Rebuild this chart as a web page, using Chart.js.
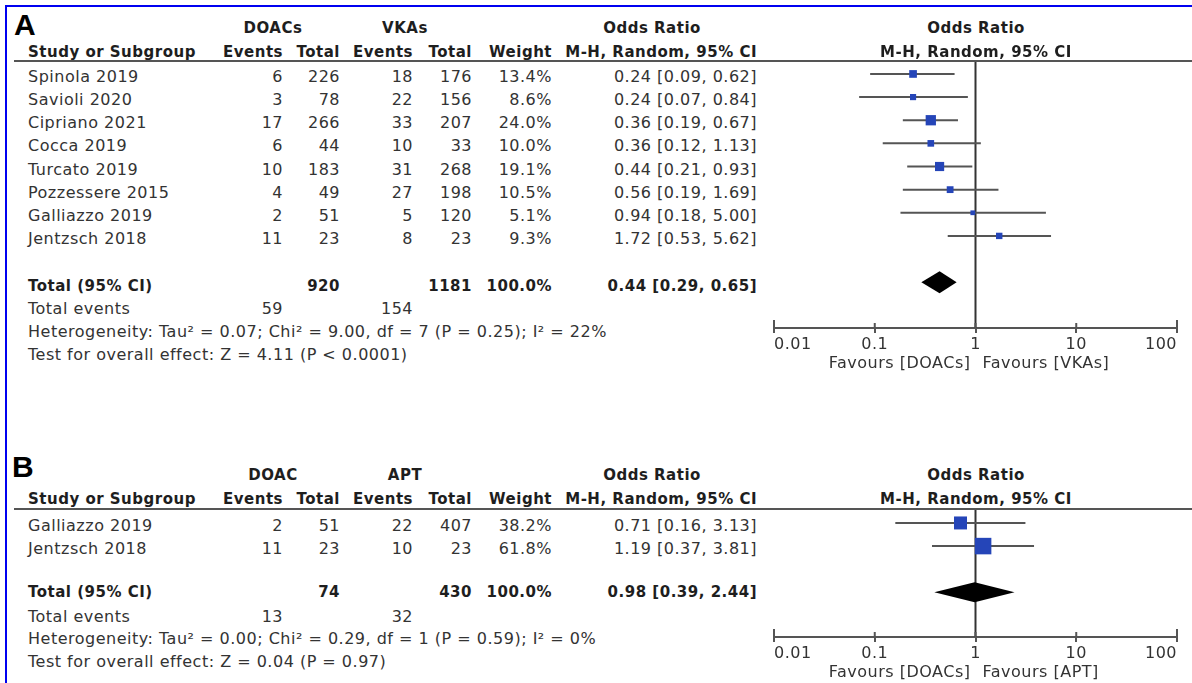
<!DOCTYPE html>
<html>
<head>
<meta charset="utf-8">
<script src="https://cdn.jsdelivr.net/npm/chart.js@4"></script>
<style>
  html, body { margin: 0; padding: 0; background: #fff; }
  #page { position: relative; width: 1192px; height: 683px; overflow: hidden;
          font-family: "DejaVu Sans", sans-serif; font-size: 16px; letter-spacing: 0.5px; color: #333; }
  .t { position: absolute; white-space: nowrap; line-height: 20px; height: 20px; }
  .b { font-weight: bold; font-size: 15px; letter-spacing: 0.5px; color: #1e1e1e; }
  .r { transform: translateX(-100%); }
  .c { transform: translateX(-50%); }
  .tag { position: absolute; font: bold 30px "Liberation Sans", Arial, sans-serif; letter-spacing: 0; color: #000; line-height: 30px; }
  .rule { position: absolute; left: 14px; right: 0; height: 2px; background: #555; }
  #frameTop { position: absolute; left: 5px; right: 0; top: 5px; height: 2px; background: #0000f0; }
  #frameLeft { position: absolute; left: 5px; top: 5px; bottom: 0; width: 2px; background: #0000f0; }
  canvas { position: absolute; left: 760px; }
</style>
</head>
<body>
<div id="page">
  <div id="frameTop"></div>
  <div id="frameLeft"></div>
  <canvas id="plotA" width="432" height="330" style="top:61px"></canvas>
  <canvas id="plotB" width="432" height="190" style="top:510px"></canvas>
</div>
<script>
// ---- Panel A: DOACs vs VKAs ----
const studiesA = ["Spinola 2019", "Savioli 2020", "Cipriano 2021", "Cocca 2019",
                  "Turcato 2019", "Pozzessere 2015", "Galliazzo 2019", "Jentzsch 2018"];
const doacEventsA = [6, 3, 17, 6, 10, 4, 2, 11];
const doacTotalA = [226, 78, 266, 44, 183, 49, 51, 23];
const vkaEventsA = [18, 22, 33, 10, 31, 27, 5, 8];
const vkaTotalA = [176, 156, 207, 33, 268, 198, 120, 23];
const weightA = [13.4, 8.6, 24.0, 10.0, 19.1, 10.5, 5.1, 9.3];
const orA = [0.24, 0.24, 0.36, 0.36, 0.44, 0.56, 0.94, 1.72];
const loA = [0.09, 0.07, 0.19, 0.12, 0.21, 0.19, 0.18, 0.53];
const hiA = [0.62, 0.84, 0.67, 1.13, 0.93, 1.69, 5.00, 5.62];
const pooledA = [0.44, 0.29, 0.65];      // OR, lower, upper
const totalsA = [920, 1181];
const totalEventsA = [59, 154];
const groupsA = ["DOACs", "VKAs"];
const hetA = "Heterogeneity: Tau² = 0.07; Chi² = 9.00, df = 7 (P = 0.25); I² = 22%";
const testA = "Test for overall effect: Z = 4.11 (P < 0.0001)";
const favoursA = ["Favours [DOACs]", "Favours [VKAs]"];

// ---- Panel B: DOAC vs APT ----
const studiesB = ["Galliazzo 2019", "Jentzsch 2018"];
const doacEventsB = [2, 11];
const doacTotalB = [51, 23];
const aptEventsB = [22, 10];
const aptTotalB = [407, 23];
const weightB = [38.2, 61.8];
const orB = [0.71, 1.19];
const loB = [0.16, 0.37];
const hiB = [3.13, 3.81];
const pooledB = [0.98, 0.39, 2.44];
const totalsB = [74, 430];
const totalEventsB = [13, 32];
const groupsB = ["DOAC", "APT"];
const hetB = "Heterogeneity: Tau² = 0.00; Chi² = 0.29, df = 1 (P = 0.59); I² = 0%";
const testB = "Test for overall effect: Z = 0.04 (P = 0.97)";
const favoursB = ["Favours [DOACs]", "Favours [APT]"];

const xTicks = [0.01, 0.1, 1, 10, 100];

/*
 * Text table */
const page = document.getElementById("page");
const COLS = [28, 283, 340, 413, 472, 552, 757];
const ROW = 23.14;

function put(text, x, y, cls) {
    const s = document.createElement("span");
    s.className = "t " + (cls || "");
    s.textContent = text;
    s.style.left = x + "px";
    s.style.top = (y - 10) + "px";
    page.appendChild(s);
}

const ci = (o, l, h) => `${o.toFixed(2)} [${l.toFixed(2)}, ${h.toFixed(2)}]`;

function table(L, d) {
    const tag = document.createElement("div");
    tag.className = "tag";
    tag.textContent = L.tag;
    tag.style.left = L.tagX + "px";
    tag.style.top = (L.tagY - 15) + "px";
    page.appendChild(tag);

    put(d.groups[0], 273, L.h1, "b c");
    put(d.groups[1], 405, L.h1, "b c");
    put("Odds Ratio", 652, L.h1, "b c");
    put("Odds Ratio", 976, L.h1, "b c");
    put("Study or Subgroup", COLS[0], L.h2, "b");
    put("Events", COLS[1], L.h2, "b r");
    put("Total", COLS[2], L.h2, "b r");
    put("Events", COLS[3], L.h2, "b r");
    put("Total", COLS[4], L.h2, "b r");
    put("Weight", COLS[5], L.h2, "b r");
    put("M-H, Random, 95% CI", COLS[6], L.h2, "b r");
    put("M-H, Random, 95% CI", 976, L.h2, "b c");

    const rule = document.createElement("div");
    rule.className = "rule";
    rule.style.top = L.rule + "px";
    page.appendChild(rule);

    d.names.forEach((n, i) => {
        const y = L.row0 + i * ROW;
        put(n, COLS[0], y);
        put(String(d.e1[i]), COLS[1], y, "r");
        put(String(d.t1[i]), COLS[2], y, "r");
        put(String(d.e2[i]), COLS[3], y, "r");
        put(String(d.t2[i]), COLS[4], y, "r");
        put(d.w[i].toFixed(1) + "%", COLS[5], y, "r");
        put(ci(d.or[i], d.lo[i], d.hi[i]), COLS[6], y, "r");
    });

    put("Total (95% CI)", COLS[0], L.total, "b");
    put(String(d.totals[0]), COLS[2], L.total, "b r");
    put(String(d.totals[1]), COLS[4], L.total, "b r");
    put("100.0%", COLS[5], L.total, "b r");
    put(ci(d.pooled[0], d.pooled[1], d.pooled[2]), COLS[6], L.total, "b r");

    put("Total events", COLS[0], L.events);
    put(String(d.events[0]), COLS[1], L.events, "r");
    put(String(d.events[1]), COLS[3], L.events, "r");
    put(d.het, COLS[0], L.het);
    put(d.test, COLS[0], L.test);
}

/*
 * Forest plot drawing: line of no effect, CI whiskers, pooled diamond */
const forestPlugin = {
    id: "forest",
    beforeDatasetsDraw(chart) {
        const { ctx, chartArea, scales: { x, y } } = chart;
        const o = chart.options.plugins.forest;
        ctx.save();
        ctx.strokeStyle = "#333";
        ctx.lineWidth = 2;
        const x1 = x.getPixelForValue(1);
        ctx.beginPath();
        ctx.moveTo(x1, chartArea.top);
        ctx.lineTo(x1, chartArea.bottom);
        ctx.stroke();

        ctx.strokeStyle = "#555";
        o.lo.forEach((lo, i) => {
            const py = y.getPixelForValue(i);
            ctx.beginPath();
            ctx.moveTo(x.getPixelForValue(lo), py);
            ctx.lineTo(x.getPixelForValue(o.hi[i]), py);
            ctx.stroke();
        });

        const [est, lo, hi] = o.pooled;
        const py = y.getPixelForValue(o.pooledRow);
        ctx.fillStyle = "#000";
        ctx.beginPath();
        ctx.moveTo(x.getPixelForValue(lo), py);
        ctx.lineTo(x.getPixelForValue(est), py - o.half);
        ctx.lineTo(x.getPixelForValue(hi), py);
        ctx.lineTo(x.getPixelForValue(est), py + o.half);
        ctx.closePath();
        ctx.fill();
        ctx.restore();
    },
    afterDraw(chart) {
        const { ctx, chartArea, scales: { x } } = chart;
        const o = chart.options.plugins.forest;
        ctx.save();
        // tick marks also cross above the axis line
        ctx.strokeStyle = "#555";
        ctx.lineWidth = 2;
        x.ticks.forEach((t, i) => {
            const px = x.getPixelForValue(t.value);
            const up = (i === 0 || i === x.ticks.length - 1) ? 8 : 5;
            ctx.beginPath();
            ctx.moveTo(px, chartArea.bottom);
            ctx.lineTo(px, chartArea.bottom - up);
            ctx.stroke();
        });
        const x1 = x.getPixelForValue(1);
        ctx.fillStyle = "#333";
        ctx.font = '16px "DejaVu Sans"';
        ctx.letterSpacing = "0.5px";
        ctx.textBaseline = "middle";
        ctx.textAlign = "right";
        ctx.fillText(o.favours[0], x1 - 5, chartArea.bottom + 36);
        ctx.textAlign = "left";
        ctx.fillText(o.favours[1], x1 + 7, chartArea.bottom + 36);
        ctx.restore();
    },
};

function forest(id, d, yMax, half) {
    new Chart(document.getElementById(id), {
        type: "scatter",
        data: {
            datasets: [{
                data: d.or.map((v, i) => ({ x: v, y: i })),
                pointStyle: "rect",
                backgroundColor: "#2545b8",
                pointBorderWidth: 0,
                // square side grows with sqrt(weight)
                pointRadius: d.w.map((w) => (2.1 * Math.sqrt(w)) / 1.414),
            }],
        },
        options: {
            responsive: false,
            animation: false,
            events: [],
            layout: { autoPadding: false, padding: { left: 14, right: 15, top: 0, bottom: 13 } },
            scales: {
                x: {
                    type: "logarithmic",
                    min: 0.01,
                    max: 100,
                    afterBuildTicks: (s) => { s.ticks = xTicks.map((v) => ({ value: v })); },
                    afterFit: (s) => { s.height = 50; s.paddingLeft = 0; s.paddingRight = 0; },
                    ticks: {
                        callback: (v) => String(v),
                        color: "#333",
                        font: { family: "DejaVu Sans", size: 16 },
                        align: "inner",
                        padding: 2,
                        maxRotation: 0,
                        autoSkip: false,
                    },
                    grid: { drawOnChartArea: false, tickLength: 5, color: "#555", lineWidth: 2 },
                    border: { color: "#555", width: 2 },
                },
                y: {
                    type: "linear",
                    reverse: true,
                    min: -0.56,
                    max: yMax,
                    display: false,
                },
            },
            plugins: {
                legend: { display: false },
                tooltip: { enabled: false },
                forest: {
                    lo: d.lo, hi: d.hi, pooled: d.pooled,
                    pooledRow: d.or.length + 1, half: half, favours: d.favours,
                },
            },
        },
        plugins: [forestPlugin],
    });
}

const dataA = {
    names: studiesA, e1: doacEventsA, t1: doacTotalA, e2: vkaEventsA, t2: vkaTotalA,
    w: weightA, or: orA, lo: loA, hi: hiA, pooled: pooledA, totals: totalsA,
    events: totalEventsA, groups: groupsA, het: hetA, test: testA, favours: favoursA,
};
const dataB = {
    names: studiesB, e1: doacEventsB, t1: doacTotalB, e2: aptEventsB, t2: aptTotalB,
    w: weightB, or: orB, lo: loB, hi: hiB, pooled: pooledB, totals: totalsB,
    events: totalEventsB, groups: groupsB, het: hetB, test: testB, favours: favoursB,
};

table({ tag: "A", tagX: 14, tagY: 25, h1: 28, h2: 52, rule: 60, row0: 77,
        total: 286, events: 309, het: 332, test: 355 }, dataA);
table({ tag: "B", tagX: 12, tagY: 467, h1: 475, h2: 499, rule: 508, row0: 526,
        total: 592, events: 617, het: 639, test: 662 }, dataB);

forest("plotA", dataA, 10.98, 11);
forest("plotB", dataB, 4.93, 10);
</script>
</body>
</html>
